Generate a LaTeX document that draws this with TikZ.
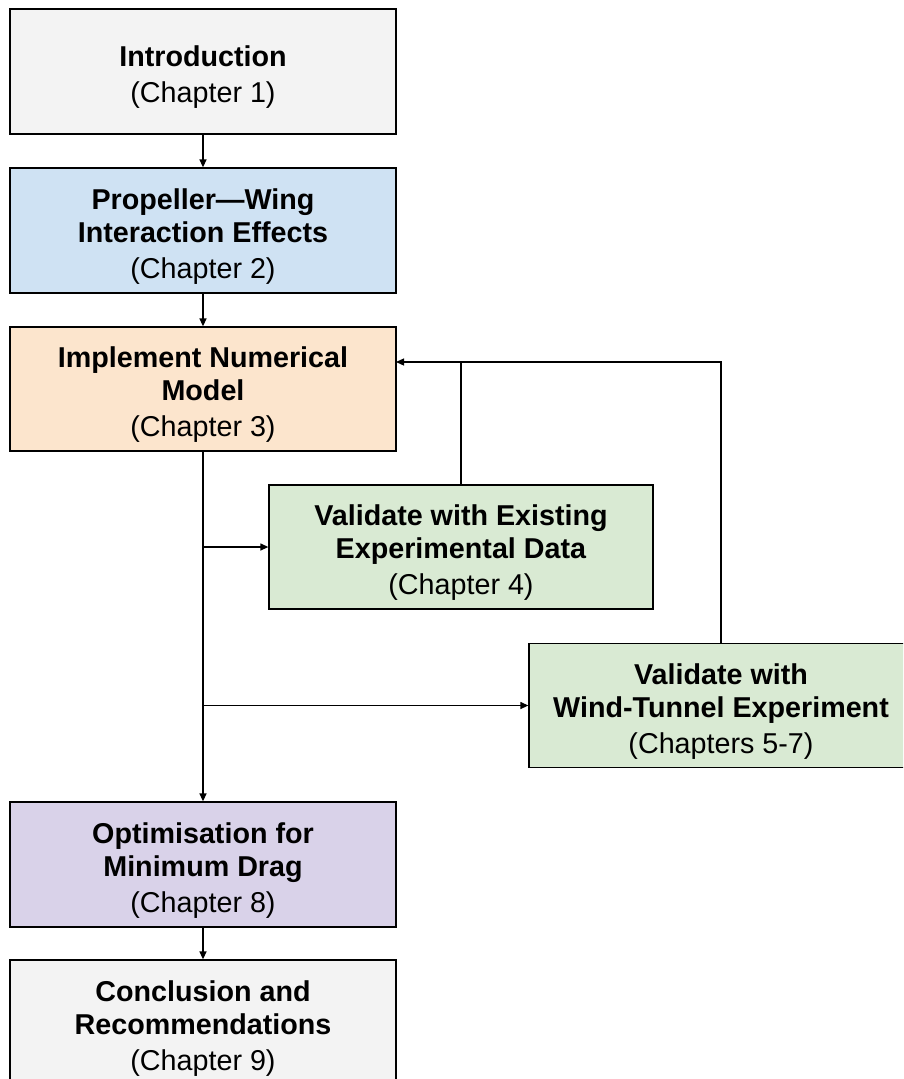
\documentclass[tikz,border=0pt]{standalone}
\usepackage{fontspec}
\setmainfont{Liberation Sans}
\usetikzlibrary{arrows.meta}
\definecolor{cgray}{HTML}{F3F3F3}
\definecolor{cblue}{HTML}{CFE2F3}
\definecolor{corange}{HTML}{FCE5CD}
\definecolor{cgreen}{HTML}{D9EAD3}
\definecolor{cpurple}{HTML}{D9D2E9}
\tikzset{
  box/.style={draw=black, line width=1.3pt, minimum width=386pt, minimum height=125pt,
    inner sep=0pt},
  gbox/.style={box, fill=cgreen, minimum width=384pt, minimum height=124pt},
  txt/.style={inner sep=0pt, align=center, font=\fontsize{28.7}{33}\selectfont},
  conn/.style={line width=1.3pt, draw=black},
  arr/.style={conn, -{Triangle[length=8pt,width=7pt]}}
}
\begin{document}
\begin{tikzpicture}[x=1pt,y=-1pt]
\useasboundingbox (0,0) rectangle (903,1079);
\begin{scope}
\clip (0,0) rectangle (903,1079);
\node[box, fill=cgray] (b1) at (203,71.5) {};
\node[box, fill=cblue] (b2) at (203,230.5) {};
\node[box, fill=corange, minimum height=124pt] (b3) at (203,389) {};
\node[gbox] (b4) at (461,547) {};
\node[gbox] (b5) at (721,705.5) {};
\node[box, fill=cpurple] (b6) at (203,864.5) {};
\node[box, fill=cgray] (b7) at (203,1022.5) {};
\end{scope}
\node[txt] (t1) at ([yshift=-6pt]b1.center) {\textbf{Introduction}\\[3pt](Chapter 1)};
\node[txt] (t2) at ([yshift=-6pt]b2.center) {\textbf{Propeller—Wing}\\\textbf{Interaction Effects}\\[3pt](Chapter 2)};
\node[txt] (t3) at ([yshift=-6pt]b3.center) {\textbf{Implement Numerical}\\\textbf{Model}\\[3pt](Chapter 3)};
\node[txt] (t4) at ([yshift=-6pt]b4.center) {\textbf{Validate with Existing}\\\textbf{Experimental Data}\\[3pt](Chapter 4)};
\node[txt] (t5) at ([yshift=-6pt]b5.center) {\textbf{Validate with}\\\textbf{Wind-Tunnel Experiment}\\[3pt](Chapters 5-7)};
\node[txt] (t6) at ([yshift=-6pt]b6.center) {\textbf{Optimisation for}\\\textbf{Minimum Drag}\\[3pt](Chapter 8)};
\node[txt] (t7) at ([yshift=-6pt]b7.center) {\textbf{Conclusion and}\\\textbf{Recommendations}\\[3pt](Chapter 9)};
\coordinate (fb) at (396,362);
\draw[arr] (b1.south) -- (b2.north);
\draw[arr] (b2.south) -- (b3.north);
\draw[arr] (b3.south) -- (b6.north);
\draw[arr] (b3.south |- b4.west) -- (b4.west);
\draw[arr] (b3.south |- b5.west) -- (b5.west);
\draw[arr] (b5.north) |- (fb);
\draw[conn] (b4.north) -- (b4.north |- fb);
\draw[arr] (b6.south) -- (b7.north);
\end{tikzpicture}
\end{document}
